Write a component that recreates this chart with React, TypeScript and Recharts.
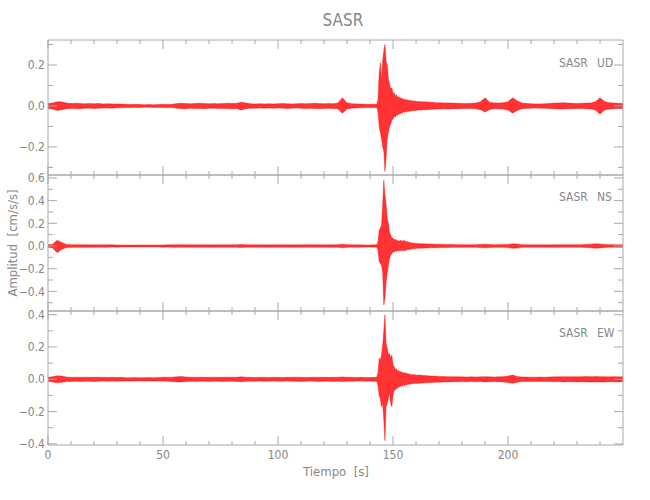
import React from 'react';
import { AreaChart, Area, XAxis, YAxis } from 'recharts';

// time of each envelope bin [s]: coarse in the quiet parts, finer around the main arrival
const times = [
  0, 2, 4, 6, 8, 10, 12, 14, 16, 18, 20, 22, 24, 26, 28, 30, 32, 34, 36, 38, 40, 42, 44, 46,
  48, 50, 52, 54, 56, 58, 60, 62, 64, 66, 68, 70, 72, 74, 76, 78, 80, 82, 84, 86, 88, 90, 92, 94,
  96, 98, 100, 102, 104, 106, 108, 110, 112, 114, 116, 118, 120, 122, 124, 126, 128, 130, 132, 134, 136, 138, 140, 142,
  142.5, 143, 143.5, 144, 144.5, 145, 145.5, 146, 146.5, 147, 147.5, 148,
  148.5, 149, 149.5, 150, 150.5, 151, 151.5, 152, 152.5, 153, 153.5, 154,
  154.5, 155, 155.5, 156, 156.5, 157, 157.5, 158, 158.5, 159, 159.5, 160,
  161, 162, 163, 164, 165, 166, 167, 168, 169, 170,
  172, 174, 176, 178, 180, 182, 184, 186, 188, 190, 192, 194,
  196, 198, 200, 202, 204, 206, 208, 210, 212, 214, 216, 218,
  220, 222, 224, 226, 228, 230, 232, 234, 236, 238, 240, 242,
  244, 246, 248, 250,
];

// SASR UD: upper / lower envelope per bin [cm/s/s]
const udHi = [
  .012, .014, .02, .02, .014, .012, .013, .012, .011, .012, .011, .012,
  .01, .011, .01, .01, .009, .008, .007, .008, .007, .006, .007, .006,
  .007, .008, .007, .008, .012, .013, .012, .011, .012, .013, .012, .011,
  .012, .011, .012, .013, .012, .013, .018, .014, .011, .01, .011, .01,
  .011, .01, .011, .012, .011, .01, .011, .012, .011, .012, .013, .012,
  .011, .012, .011, .015, .04, .016, .011, .01, .009, .008, .008, .008,
  .008, .009, .03, .16, .21, .12, .22, .27, .30, .22, .2, .13,
  .11, .08, .09, .06, .065, .05, .055, .042, .045, .038, .04, .034,
  .035, .03, .033, .028, .03, .026, .028, .025, .026, .023, .025, .022,
  .022, .021, .02, .02, .019, .018, .018, .017, .016, .016,
  .015, .015, .014, .013, .012, .012, .013, .014, .02, .04, .018, .015,
  .014, .016, .02, .04, .025, .014, .012, .011, .01, .01, .011, .012,
  .014, .015, .016, .014, .013, .012, .013, .014, .015, .02, .04, .022,
  .016, .014, .013, .012,
];
const udLo = [
  -.012, -.015, -.022, -.018, -.013, -.012, -.012, -.013, -.011, -.011, -.012, -.011,
  -.01, -.01, -.011, -.009, -.009, -.008, -.007, -.007, -.007, -.006, -.006, -.007,
  -.007, -.007, -.008, -.008, -.011, -.012, -.013, -.011, -.012, -.012, -.013, -.011,
  -.011, -.012, -.012, -.012, -.013, -.012, -.02, -.013, -.011, -.011, -.01, -.011,
  -.01, -.011, -.01, -.011, -.012, -.011, -.01, -.011, -.012, -.011, -.012, -.013,
  -.012, -.011, -.012, -.014, -.035, -.015, -.011, -.01, -.009, -.008, -.008, -.008,
  -.008, -.009, -.03, -.1, -.13, -.16, -.2, -.22, -.32, -.25, -.16, -.13,
  -.1, -.09, -.07, -.065, -.05, -.055, -.045, -.045, -.038, -.04, -.034, -.035,
  -.03, -.032, -.027, -.03, -.025, -.027, -.024, -.025, -.022, -.024, -.021, -.022,
  -.02, -.02, -.019, -.018, -.018, -.017, -.016, -.016, -.015, -.015,
  -.014, -.015, -.013, -.013, -.012, -.012, -.012, -.014, -.018, -.03, -.017, -.014,
  -.014, -.015, -.02, -.035, -.022, -.013, -.012, -.011, -.01, -.011, -.011, -.012,
  -.013, -.015, -.015, -.014, -.013, -.012, -.012, -.014, -.015, -.02, -.04, -.02,
  -.015, -.014, -.012, -.012,
];

// SASR NS
const nsHi = [
  .012, .016, .05, .03, .014, .012, .011, .012, .011, .01, .011, .01,
  .011, .01, .01, .009, .009, .008, .008, .009, .008, .008, .009, .008,
  .009, .009, .01, .01, .011, .012, .011, .01, .011, .01, .011, .011,
  .01, .011, .01, .011, .01, .011, .014, .011, .01, .01, .011, .01,
  .01, .011, .01, .01, .011, .01, .011, .01, .011, .012, .011, .01,
  .011, .01, .011, .012, .016, .012, .011, .01, .01, .009, .009, .01,
  .01, .012, .04, .14, .16, .18, .36, .58, .45, .37, .24, .2,
  .12, .1, .07, .07, .055, .06, .048, .05, .042, .046, .05, .04,
  .05, .045, .045, .036, .038, .03, .032, .027, .028, .024, .025, .022,
  .022, .02, .02, .019, .018, .017, .017, .016, .015, .015,
  .014, .013, .013, .012, .012, .011, .011, .012, .013, .016, .013, .012,
  .012, .013, .014, .02, .018, .012, .011, .011, .01, .01, .011, .01,
  .011, .012, .011, .011, .012, .011, .012, .014, .016, .02, .018, .014,
  .012, .011, .011, .012,
];
const nsLo = [
  -.012, -.018, -.06, -.028, -.014, -.012, -.012, -.011, -.011, -.011, -.01, -.011,
  -.01, -.011, -.009, -.01, -.008, -.009, -.008, -.008, -.009, -.008, -.008, -.009,
  -.008, -.01, -.009, -.01, -.012, -.011, -.011, -.011, -.01, -.011, -.01, -.011,
  -.011, -.01, -.011, -.01, -.011, -.01, -.013, -.011, -.011, -.01, -.01, -.011,
  -.011, -.01, -.011, -.01, -.01, -.011, -.01, -.011, -.011, -.011, -.012, -.01,
  -.01, -.011, -.011, -.012, -.016, -.012, -.01, -.011, -.01, -.009, -.009, -.01,
  -.01, -.012, -.04, -.14, -.15, -.17, -.23, -.52, -.46, -.32, -.24, -.17,
  -.11, -.08, -.07, -.05, -.055, -.045, -.048, -.04, -.043, -.038, -.045, -.036,
  -.045, -.04, -.04, -.032, -.034, -.028, -.03, -.025, -.026, -.023, -.024, -.021,
  -.02, -.02, -.019, -.018, -.017, -.016, -.016, -.015, -.015, -.014,
  -.013, -.013, -.012, -.012, -.011, -.011, -.012, -.011, -.013, -.016, -.013, -.012,
  -.012, -.012, -.014, -.02, -.018, -.012, -.011, -.01, -.011, -.01, -.01, -.011,
  -.011, -.011, -.012, -.011, -.011, -.012, -.012, -.014, -.016, -.02, -.017, -.013,
  -.012, -.011, -.012, -.011,
];

// SASR EW
const ewHi = [
  .012, .016, .022, .02, .014, .012, .013, .012, .013, .012, .012, .013,
  .012, .011, .012, .011, .012, .01, .01, .011, .01, .01, .011, .01,
  .011, .012, .012, .013, .016, .017, .014, .013, .012, .013, .012, .012,
  .013, .012, .012, .013, .012, .012, .015, .013, .012, .011, .012, .012,
  .011, .012, .012, .011, .012, .012, .013, .012, .011, .012, .013, .012,
  .012, .012, .012, .013, .014, .013, .012, .011, .012, .011, .011, .012,
  .012, .014, .04, .13, .12, .15, .21, .3, .4, .22, .19, .15,
  .16, .13, .15, .09, .08, .06, .065, .05, .055, .045, .048, .04,
  .043, .038, .04, .034, .036, .031, .032, .028, .03, .027, .029, .025,
  .026, .025, .024, .023, .022, .021, .02, .02, .019, .018,
  .017, .016, .016, .015, .015, .014, .015, .014, .015, .016, .015, .014,
  .015, .016, .02, .026, .018, .014, .014, .013, .013, .014, .013, .014,
  .015, .015, .016, .015, .016, .015, .016, .017, .016, .017, .016, .016,
  .015, .016, .015, .015,
];
const ewLo = [
  -.012, -.016, -.022, -.019, -.014, -.013, -.012, -.013, -.012, -.012, -.013, -.012,
  -.011, -.012, -.011, -.012, -.011, -.01, -.011, -.01, -.01, -.011, -.01, -.011,
  -.011, -.011, -.012, -.013, -.016, -.016, -.014, -.012, -.013, -.012, -.012, -.013,
  -.012, -.012, -.013, -.012, -.012, -.013, -.015, -.012, -.012, -.012, -.011, -.012,
  -.012, -.011, -.012, -.012, -.011, -.012, -.012, -.013, -.012, -.011, -.012, -.013,
  -.012, -.012, -.013, -.012, -.014, -.012, -.012, -.011, -.011, -.012, -.011, -.012,
  -.012, -.014, -.04, -.1, -.12, -.17, -.15, -.25, -.38, -.17, -.15, -.12,
  -.08, -.15, -.17, -.1, -.07, -.065, -.055, -.055, -.045, -.048, -.04, -.043,
  -.036, -.04, -.034, -.036, -.031, -.032, -.028, -.03, -.026, -.028, -.025, -.026,
  -.025, -.024, -.023, -.022, -.021, -.02, -.02, -.019, -.018, -.018,
  -.016, -.016, -.015, -.015, -.014, -.015, -.014, -.015, -.014, -.016, -.015, -.014,
  -.015, -.016, -.02, -.025, -.018, -.014, -.013, -.014, -.013, -.013, -.014, -.013,
  -.015, -.014, -.016, -.015, -.015, -.016, -.015, -.016, -.017, -.016, -.016, -.017,
  -.015, -.015, -.016, -.015,
];

const timeTicks = [0, 10, 20, 30, 40, 50, 60, 70, 80, 90, 100, 110, 120, 130, 140, 150, 160, 170, 180, 190, 200, 210, 220, 230, 240];
const udTicks = [-0.3, -0.2, -0.1, 0, 0.1, 0.2, 0.3];
const nsTicks = [-0.5, -0.4, -0.3, -0.2, -0.1, 0, 0.1, 0.2, 0.3, 0.4, 0.5, 0.6];
const ewTicks = [-0.4, -0.3, -0.2, -0.1, 0, 0.1, 0.2, 0.3, 0.4];

const FONT = '"Liberation Sans Narrow", "DejaVu Sans Condensed", "Liberation Sans", sans-serif';
const AXIS = '#a8a8a8';
const TEXT = '#878787';
const TRACE = '#ff0000';

const rows = times.map((t, i) => ({
  t,
  ud: [udLo[i], udHi[i]],
  ns: [nsLo[i], nsHi[i]],
  ew: [ewLo[i], ewHi[i]],
}));

const fmtAmp = (v: number) => (v < 0 ? '\u2212' : '') + Math.abs(v).toFixed(1);

function Tick(props: any) {
  const { x, y, payload, side, labels } = props;
  const v = payload.value;
  const vertical = side === 'left' || side === 'right';
  const major = vertical ? Math.round(Math.abs(v) * 10) % 2 === 0 : v % 50 === 0;
  const len = major ? 9 : vertical ? 5 : 4;
  let x2 = x, y2 = y;
  if (side === 'left') x2 = x + len;
  if (side === 'right') x2 = x - len;
  if (side === 'top') y2 = y + len;
  if (side === 'bottom') y2 = y - len;
  return (
    <g>
      <line x1={x} y1={y} x2={x2} y2={y2} stroke={AXIS} strokeWidth={1} />
      {labels && major && side === 'left' && (
        <text x={x - 3} y={y} dy="0.35em" textAnchor="end" fill={TEXT} fontSize={12} fontFamily={FONT}>
          {fmtAmp(v)}
        </text>
      )}
      {labels && major && side === 'bottom' && (
        <text x={x} y={y + 10} dy="0.35em" textAnchor="middle" fill={TEXT} fontSize={12} fontFamily={FONT}>
          {v}
        </text>
      )}
    </g>
  );
}

interface PanelProps {
  top: number;
  height: number;
  dataKey: string;
  domain: [number, number];
  ticks: number[];
  withTime?: boolean;
}

const Panel: React.FC<PanelProps> = ({ top, height, dataKey, domain, ticks, withTime }) => {
  const margin = { top: 10, right: 27, bottom: withTime ? 24 : 10, left: 48 };
  return (
    <div style={{ position: 'absolute', left: 0, top: top - margin.top }}>
      <AreaChart width={650} height={height + margin.top + margin.bottom} data={rows} margin={margin}>
        <XAxis
          xAxisId="bottom" dataKey="t" type="number" orientation="bottom" mirror height={1}
          domain={[0, 250]} allowDataOverflow ticks={timeTicks} interval={0}
          tickSize={0} tickMargin={0} tickLine={false} axisLine={{ stroke: AXIS }}
          tick={(p: any) => <Tick {...p} side="bottom" labels={!!withTime} />}
        />
        <XAxis
          xAxisId="top" dataKey="t" type="number" orientation="top" mirror height={1}
          domain={[0, 250]} allowDataOverflow ticks={timeTicks} interval={0}
          tickSize={0} tickMargin={0} tickLine={false} axisLine={{ stroke: AXIS }}
          tick={(p: any) => <Tick {...p} side="top" labels={false} />}
        />
        <YAxis
          yAxisId="left" type="number" orientation="left" mirror width={1}
          domain={domain} allowDataOverflow ticks={ticks} interval={0}
          tickSize={0} tickMargin={0} tickLine={false} axisLine={{ stroke: AXIS }}
          tick={(p: any) => <Tick {...p} side="left" labels />}
        />
        <YAxis
          yAxisId="right" type="number" orientation="right" mirror width={1}
          domain={domain} allowDataOverflow ticks={ticks} interval={0}
          tickSize={0} tickMargin={0} tickLine={false} axisLine={{ stroke: AXIS }}
          tick={(p: any) => <Tick {...p} side="right" labels={false} />}
        />
        <Area
          xAxisId="bottom" yAxisId="left" dataKey={dataKey} type="linear"
          stroke={TRACE} strokeWidth={0.4} fill={TRACE} fillOpacity={0.8}
          dot={false} activeDot={false} isAnimationActive={false}
        />
      </AreaChart>
    </div>
  );
};

const App: React.FC = () => {
  const textStyle = { fill: TEXT, fontFamily: FONT, style: { whiteSpace: 'pre' as const } };
  return (
    <div style={{ position: 'absolute', left: 0, top: 0, width: 650, height: 500, background: '#fff' }}>
      <Panel top={40} height={135} dataKey="ud" domain={[-0.337, 0.322]} ticks={udTicks} />
      <Panel top={175} height={136} dataKey="ns" domain={[-0.573, 0.626]} ticks={nsTicks} />
      <Panel top={311} height={134} dataKey="ew" domain={[-0.407, 0.423]} ticks={ewTicks} withTime />
      <svg width={650} height={500} style={{ position: 'absolute', left: 0, top: 0, pointerEvents: 'none' }}>
        <text x={343} y={26} textAnchor="middle" fontSize={17} {...textStyle}>SASR</text>
        <text x={336} y={476} textAnchor="middle" fontSize={13} {...textStyle}>Tiempo  [s]</text>
        <text x={16.5} y={243} textAnchor="middle" fontSize={13} transform="rotate(-90 16.5 243)" {...textStyle}>
          Amplitud  [cm/s/s]
        </text>
        <text x={559} y={67} fontSize={12} {...textStyle}>SASR</text>
        <text x={597} y={67} fontSize={12} {...textStyle}>UD</text>
        <text x={559} y={201} fontSize={12} {...textStyle}>SASR</text>
        <text x={597} y={201} fontSize={12} {...textStyle}>NS</text>
        <text x={559} y={337} fontSize={12} {...textStyle}>SASR</text>
        <text x={597} y={337} fontSize={12} {...textStyle}>EW</text>
      </svg>
    </div>
  );
};

export default App;
